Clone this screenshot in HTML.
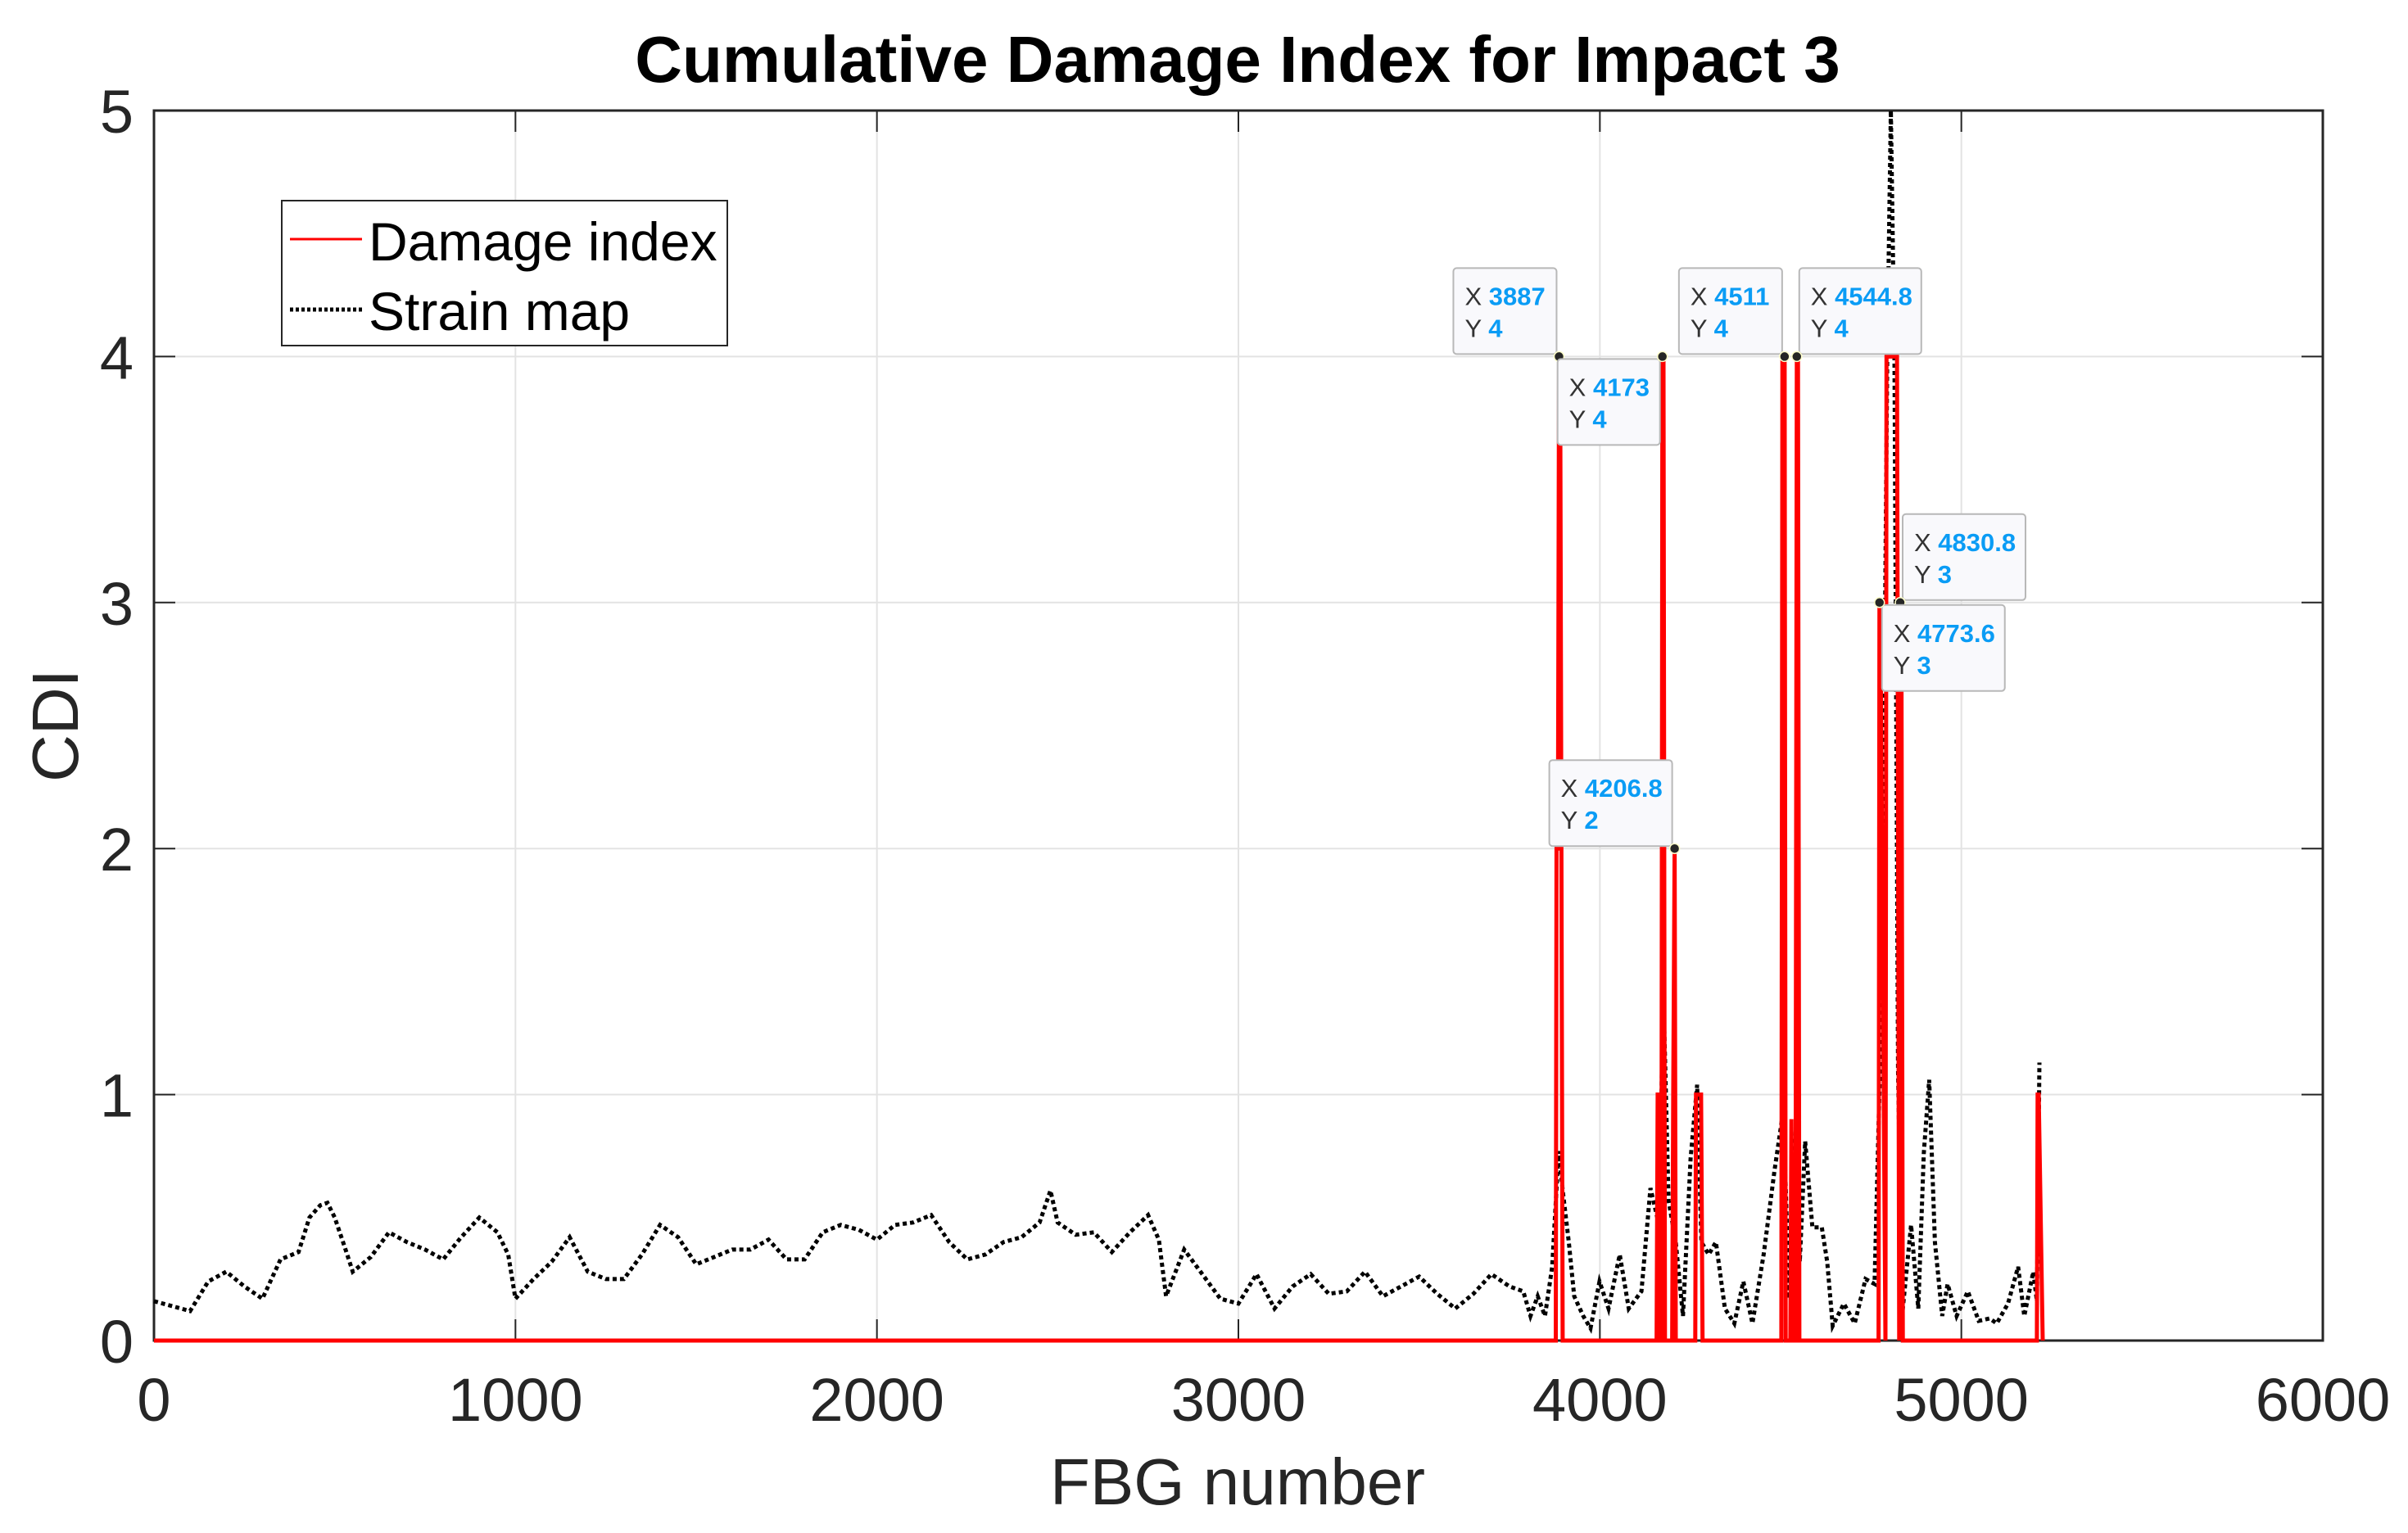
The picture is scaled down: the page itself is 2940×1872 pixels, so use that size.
<!DOCTYPE html>
<html><head><meta charset="utf-8"><style>
html,body{margin:0;padding:0;background:#fff;}
svg{display:block;font-family:"Liberation Sans",Arial,sans-serif;}
</style></head><body>
<svg id="chart" width="2940" height="1872" viewBox="0 0 2940 1872" xmlns="http://www.w3.org/2000/svg">
<rect width="2940" height="1872" fill="#fff"/>
<text x="1511" y="100" text-anchor="middle" font-size="80" font-weight="bold" fill="#000">Cumulative Damage Index for Impact 3</text>
<g id="grid"></g>
<g id="axes"></g>
<g id="series"></g>
<text x="1511" y="1837" text-anchor="middle" font-size="80" fill="#262626">FBG number</text>
<text transform="translate(95,886) rotate(-90)" text-anchor="middle" font-size="80" fill="#262626">CDI</text>
<g id="tips"></g>
<g>
<rect x="344" y="245" width="544" height="177" fill="#fff" stroke="#262626" stroke-width="2"/>
<line x1="354" y1="292" x2="442" y2="292" stroke="#ff0000" stroke-width="3"/>
<text x="450" y="318" font-size="66" fill="#000">Damage index</text>
<line x1="354" y1="378" x2="442" y2="378" stroke="#000" stroke-width="5" stroke-dasharray="4 3"/>
<text x="450" y="403" font-size="66" fill="#000">Strain map</text>
</g>
</svg>
<script>
const xTicks=[0,1000,2000,3000,4000,5000,6000];
const yTicks=[0,1,2,3,4,5];
const strainX=[0,50,100,150,200,250,300,350,400,430,460,480,500,530,550,600,650,700,750,800,850,900,950,980,1000,1050,1100,1150,1200,1250,1300,1350,1400,1450,1500,1550,1600,1650,1700,1750,1800,1850,1900,1950,2000,2050,2100,2150,2200,2250,2300,2350,2400,2450,2480,2500,2550,2600,2650,2700,2750,2780,2800,2850,2900,2950,3000,3050,3100,3150,3200,3250,3300,3350,3400,3450,3500,3550,3600,3650,3700,3750,3788,3808,3828,3848,3868,3886,3898,3914,3929,3954,3974,3999,4024,4055,4080,4115,4140,4165,4175,4190,4210,4230,4251,4269,4281,4301,4321,4346,4372,4397,4422,4453,4483,4508,4523,4543,4553,4568,4588,4614,4629,4644,4675,4705,4735,4760,4780,4795,4805,4815,4825,4836,4861,4881,4896,4911,4927,4947,4962,4987,5018,5048,5078,5098,5129,5157,5174,5199,5209,5216];
const strainY=[0.16,0.14,0.12,0.24,0.28,0.22,0.17,0.33,0.36,0.5,0.55,0.56,0.5,0.37,0.28,0.34,0.44,0.4,0.37,0.33,0.42,0.5,0.44,0.35,0.17,0.25,0.32,0.42,0.28,0.25,0.25,0.35,0.47,0.42,0.31,0.34,0.37,0.37,0.41,0.33,0.33,0.44,0.47,0.45,0.41,0.47,0.48,0.51,0.4,0.33,0.35,0.4,0.42,0.48,0.61,0.48,0.43,0.44,0.36,0.44,0.51,0.41,0.18,0.37,0.27,0.17,0.15,0.27,0.13,0.22,0.27,0.19,0.2,0.28,0.18,0.22,0.26,0.19,0.13,0.19,0.27,0.22,0.2,0.1,0.18,0.1,0.3,0.77,0.6,0.4,0.18,0.1,0.05,0.24,0.13,0.35,0.13,0.2,0.62,0.46,1.45,0.57,0.4,0.1,0.74,1.04,0.4,0.35,0.4,0.13,0.07,0.24,0.07,0.35,0.69,0.94,0.17,0.9,0.32,0.81,0.46,0.46,0.32,0.06,0.15,0.07,0.25,0.23,1.4,4.0,5.0,4.0,1.1,0.1,0.47,0.13,0.76,1.06,0.4,0.1,0.23,0.1,0.2,0.08,0.09,0.07,0.15,0.3,0.1,0.28,0.16,1.13];
const damageX=[0,3878,3880,3884,3887,3890,3897,3899,4157,4160,4163,4166,4170,4173,4176,4180,4183,4200,4203,4206.8,4210,4212,4264,4266,4280,4284,4502,4505,4511,4514,4527,4530,4533,4541,4544.8,4548,4552,4771,4773.6,4776,4790,4793,4800,4808,4812,4816,4819,4822,4828,4830.8,4834,4838,5209,5211,5214,5225];
const damageY=[0,0,2,2,4,4,0,0,0,1,1,0,0,4,4,0,0,0,1,2,0,0,0,1,1,0,0,4,4,0,0,0.9,0,0,4,4,0,0,3,3,0,4,4,4,4,4,4,4,0,3,3,0,0,1,1,0];
const tipX=[3887,4173,4206.8,4511,4544.8,4830.8,4773.6];
const tipY=[4,4,2,4,4,3,3];
const tipLabels=["3887","4173","4206.8","4511","4544.8","4830.8","4773.6"];
const tipYLabels=["4","4","2","4","4","3","3"];
const tipCorner=["br","tr","br","br","bl","bl","tl"];
const tipW=[126,125,150,126,149,150,150];

const L=188,R=2836,T=135,B=1637;
const NS="http://www.w3.org/2000/svg";
function sx(v){return L+(v-0)/6000*(R-L);}
function sy(v){return B-(v-0)/5*(B-T);}
function mk(tag,attrs,parent){const e=document.createElementNS(NS,tag);for(const k in attrs)e.setAttribute(k,attrs[k]);parent.appendChild(e);return e;}
const grid=document.getElementById('grid'),axes=document.getElementById('axes'),series=document.getElementById('series'),tips=document.getElementById('tips');
xTicks.forEach(t=>{
  const g=mk('line',{x1:sx(t),x2:sx(t),y1:T,y2:B,stroke:'#e3e3e3','stroke-width':2},grid);
  
  
  const tk=mk('line',{x1:sx(t),x2:sx(t),y1:B,y2:B-26,stroke:'#262626','stroke-width':2},axes);
  
  
  const tk2=mk('line',{x1:sx(t),x2:sx(t),y1:T,y2:T+26,stroke:'#262626','stroke-width':2},axes);
  
  
  const lb=mk('text',{x:sx(t),y:1735,'text-anchor':'middle','font-size':74,fill:'#262626'},axes);
  lb.textContent=t;
  
  
});
yTicks.forEach(t=>{
  const g=mk('line',{x1:L,x2:R,y1:sy(t),y2:sy(t),stroke:'#e3e3e3','stroke-width':2},grid);
  
  
  const tk=mk('line',{x1:L,x2:L+26,y1:sy(t),y2:sy(t),stroke:'#262626','stroke-width':2},axes);
  
  
  const tk2=mk('line',{x1:R,x2:R-26,y1:sy(t),y2:sy(t),stroke:'#262626','stroke-width':2},axes);
  
  
  const lb=mk('text',{x:163,y:sy(t)+27,'text-anchor':'end','font-size':74,fill:'#262626'},axes);
  lb.textContent=t;
  
  
});
const box=mk('rect',{x:L,y:T,width:R-L,height:B-T,fill:'none',stroke:'#262626','stroke-width':3},axes);


let ss=strainX.map((x,i)=>(i?'L':'M')+sx(x).toFixed(1)+' '+sy(strainY[i]).toFixed(1)).join(' ');
const sl=mk('path',{d:ss,fill:'none',stroke:'#000','stroke-width':5,'stroke-dasharray':'5 4'},series);


let ds=damageX.map((x,i)=>(i?'L':'M')+sx(x).toFixed(1)+' '+sy(damageY[i]).toFixed(1)).join(' ');
const dl=mk('path',{d:ds,fill:'none',stroke:'#ff0000','stroke-width':5},series);


tipX.forEach((x,i)=>{
  const px=sx(x),py=sy(tipY[i]),w=tipW[i],h=105;
  let bx,by;const c=tipCorner[i];
  bx=c[1]==='l'?px+3:px-3-w; by=c[0]==='t'?py+3:py-3-h;
  const g=mk('g',{},tips);
  
  
  mk('rect',{x:bx,y:by,width:w,height:h,rx:4,fill:'#f9f9fc',stroke:'#b8b8b8','stroke-width':2},g);
  const t1=mk('text',{x:bx+14,y:by+45,'font-size':31,fill:'#333'},g);
  t1.innerHTML='X <tspan fill="#0a9cf5" font-weight="bold">'+tipLabels[i]+'</tspan>';
  const t2=mk('text',{x:bx+14,y:by+84,'font-size':31,fill:'#333'},g);
  t2.innerHTML='Y <tspan fill="#0a9cf5" font-weight="bold">'+tipYLabels[i]+'</tspan>';
  const d=mk('circle',{cx:px,cy:py,r:6,fill:'#262626',stroke:'#ffffcc','stroke-width':1.5},g);
  
  
});
</script>
</body></html>
